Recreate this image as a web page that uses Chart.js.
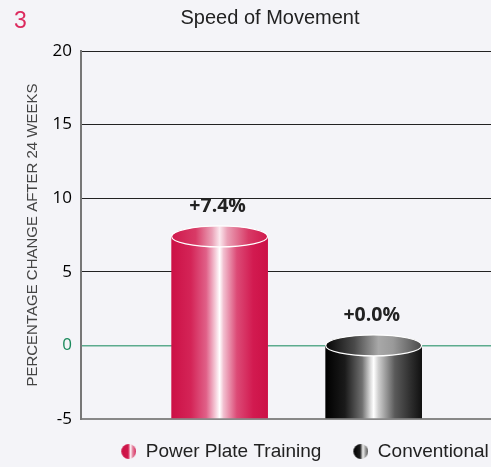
<!DOCTYPE html>
<html>
<head>
<meta charset="utf-8">
<script src="https://cdn.jsdelivr.net/npm/chart.js@4.4.0/dist/chart.umd.min.js"></script>
<style>
  html, body { margin: 0; padding: 0; background: #f4f4f8; }
  #wrap { width: 491px; height: 467px; overflow: hidden; position: relative; }
</style>
</head>
<body>
<div id="wrap"><canvas id="chart" width="520" height="471"></canvas></div>
<script>
const categories = ["Power Plate Training", "Conventional"];
const values = [7.4, 0.0];
const valueLabels = ["+7.4%", "+0.0%"];
const yTicks = [-5, 0, 5, 10, 15, 20];
const chartTitle = "Speed of Movement";
const figureNumber = "3";
const yTitle = "PERCENTAGE CHANGE AFTER 24 WEEKS";

const BAR_WIDTH = 96;

// cylinder shading, left to right
const bodyStops = [
  [[0, "#cc1146"], [0.2, "#d42457"], [0.36, "#e06088"], [0.46, "#f6d0dc"], [0.5, "#ffffff"], [0.54, "#f2c0d0"], [0.68, "#dc4a76"], [0.85, "#d21a50"], [1, "#cc1146"]],
  [[0, "#000000"], [0.2, "#1a1a1a"], [0.38, "#707070"], [0.47, "#e0e0e0"], [0.5, "#ffffff"], [0.55, "#cfcfcf"], [0.72, "#5a5a5a"], [0.9, "#2a2a2a"], [1, "#111111"]]
];
const topStops = [
  [[0, "#d0184c"], [0.25, "#d83a66"], [0.42, "#eaa0b6"], [0.5, "#fbe8ee"], [0.58, "#eaa0b6"], [0.8, "#d83a66"], [1, "#d0184c"]],
  [[0, "#050505"], [0.3, "#4a4a4a"], [0.55, "#a8a8a8"], [0.7, "#9a9a9a"], [1, "#4a4a4a"]]
];
const iconStops = [
  [[0, "#cc1146"], [0.45, "#d0184c"], [0.56, "#f0b0c4"], [0.62, "#ffffff"], [0.72, "#e890aa"], [1, "#d42a5c"]],
  [[0, "#000000"], [0.45, "#202020"], [0.58, "#d0d0d0"], [0.64, "#f0f0f0"], [0.8, "#999999"], [1, "#555555"]]
];

function hGradient(ctx, x, w, stops) {
  const g = ctx.createLinearGradient(x - w / 2, 0, x + w / 2, 0);
  stops.forEach(s => g.addColorStop(s[0], s[1]));
  return g;
}

function makeIcon(stops) {
  const c = document.createElement("canvas");
  c.width = 24;
  c.height = 15;
  const g = c.getContext("2d");
  const grad = g.createLinearGradient(9.5, 0, 24, 0);
  stops.forEach(s => grad.addColorStop(s[0], s[1]));
  g.fillStyle = grad;
  g.beginPath();
  g.arc(16.5, 7.5, 7.5, 0, Math.PI * 2);
  g.fill();
  return c;
}
const legendIcons = iconStops.map(makeIcon);

function barFill(c, i) {
  const chart = c.chart;
  if (!chart.chartArea || !chart.scales.x) return bodyStops[i][0][1];
  const x = chart.scales.x.getPixelForValue(i);
  return hGradient(chart.ctx, x, BAR_WIDTH, bodyStops[i]);
}

const cylinderTops = {
  id: "cylinderTops",
  afterDatasetsDraw(chart) {
    const ctx = chart.ctx;
    chart.data.datasets.forEach((ds, i) => {
      const bar = chart.getDatasetMeta(i).data[0];
      ctx.save();
      ctx.beginPath();
      ctx.ellipse(bar.x, bar.y, bar.width / 2, 10.5, 0, 0, Math.PI * 2);
      ctx.fillStyle = hGradient(ctx, bar.x, bar.width, topStops[i]);
      ctx.fill();
      ctx.lineWidth = 1.2;
      ctx.strokeStyle = "#ffffff";
      ctx.stroke();
      ctx.font = "bold 19.5px 'Open Sans'";
      ctx.fillStyle = "#222";
      ctx.textAlign = "center";
      ctx.textBaseline = "middle";
      ctx.fillText(valueLabels[i], bar.x - 2, bar.y - 30);
      ctx.restore();
    });
  }
};

const header = {
  id: "header",
  afterDraw(chart) {
    const ctx = chart.ctx;
    ctx.save();
    ctx.textBaseline = "middle";
    ctx.textAlign = "left";
    ctx.fillStyle = "#dc2a5e";
    ctx.font = "23px 'Liberation Sans'";
    ctx.fillText(figureNumber, 14, 22);
    ctx.textAlign = "center";
    ctx.fillStyle = "#222";
    ctx.font = "20px 'Liberation Sans'";
    ctx.fillText(chartTitle, 270, 18);
    ctx.restore();
  }
};

new Chart(document.getElementById("chart"), {
  type: "bar",
  data: {
    datasets: categories.map((label, i) => ({
      label: label,
      data: [{ x: i, y: values[i] }],
      backgroundColor: c => barFill(c, i),
      borderWidth: 0,
      barThickness: BAR_WIDTH,
      grouped: false,
      base: -5
    }))
  },
  options: {
    responsive: false,
    animation: false,
    layout: { padding: { top: 51, left: 0, right: 0, bottom: 0 } },
    scales: {
      x: { type: "linear", min: -0.9, max: 1.95, offset: false, display: false },
      y: {
        min: -5,
        max: 20,
        afterFit(scale) { scale.width = 81; },
        afterBuildTicks(scale) { scale.ticks = yTicks.map(v => ({ value: v })); },
        ticks: {
          padding: 9,
          color: c => c.tick.value === 0 ? "#1a8a5c" : "#000",
          font: { family: "'Open Sans'", size: 17 }
        },
        grid: {
          drawTicks: false,
          color: c => c.tick.value === 0 ? "#5cab8e" : (c.tick.value === -5 ? "#888" : "#222"),
          lineWidth: c => c.tick.value === -5 ? 2 : (c.tick.value === 0 ? 1.5 : 1)
        },
        border: { display: true, color: "#777", width: 2 },
        title: {
          display: true,
          text: yTitle,
          color: "#444",
          font: { family: "'Liberation Sans'", size: 15 },
          padding: { top: 24, bottom: 0 }
        }
      }
    },
    plugins: {
      tooltip: { enabled: false },
      legend: {
        position: "bottom",
        fullSize: false,
        labels: {
          usePointStyle: true,
          pointStyleWidth: 24,
          boxHeight: 14,
          padding: 23,
          color: "#222",
          font: { family: "'Liberation Sans'", size: 19 },
          generateLabels: chart => chart.data.datasets.map((ds, i) => ({
            text: ds.label,
            pointStyle: legendIcons[i],
            fillStyle: bodyStops[i][0][1],
            strokeStyle: "transparent",
            lineWidth: 0,
            fontColor: "#222",
            hidden: false,
            datasetIndex: i
          }))
        }
      }
    }
  },
  plugins: [cylinderTops, header]
});
</script>
</body>
</html>
